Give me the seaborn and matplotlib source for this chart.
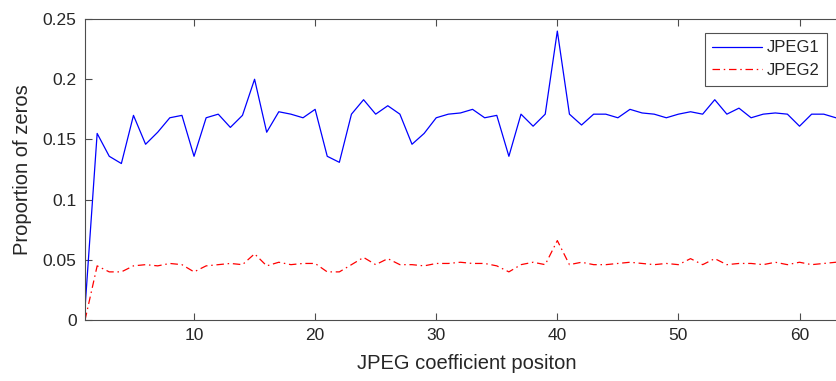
import numpy as np
import pandas as pd
import seaborn as sns
import matplotlib.pyplot as plt

# coefficient positions 1..64
positions = list(range(1, 65))

jpeg1 = [0.010, 0.155, 0.136, 0.130, 0.170, 0.146, 0.156, 0.168, 0.170, 0.136,
         0.168, 0.171, 0.160, 0.170, 0.200, 0.156, 0.173, 0.171, 0.168, 0.175,
         0.136, 0.131, 0.171, 0.183, 0.171, 0.178, 0.171, 0.146, 0.155, 0.168,
         0.171, 0.172, 0.175, 0.168, 0.170, 0.136, 0.171, 0.161, 0.171, 0.240,
         0.171, 0.162, 0.171, 0.171, 0.168, 0.175, 0.172, 0.171, 0.168, 0.171,
         0.173, 0.171, 0.183, 0.171, 0.176, 0.168, 0.171, 0.172, 0.171, 0.161,
         0.171, 0.171, 0.168, 0.168]

jpeg2 = [0.000, 0.045, 0.040, 0.040, 0.045, 0.046, 0.045, 0.047, 0.046, 0.040,
         0.045, 0.046, 0.047, 0.046, 0.055, 0.045, 0.048, 0.046, 0.047, 0.047,
         0.040, 0.040, 0.046, 0.052, 0.046, 0.051, 0.046, 0.046, 0.045, 0.047,
         0.047, 0.048, 0.047, 0.047, 0.045, 0.040, 0.046, 0.048, 0.046, 0.066,
         0.046, 0.048, 0.046, 0.046, 0.047, 0.048, 0.047, 0.046, 0.047, 0.046,
         0.051, 0.046, 0.051, 0.046, 0.047, 0.047, 0.046, 0.048, 0.046, 0.048,
         0.046, 0.047, 0.048, 0.047]

y_ticks = [0, 0.05, 0.1, 0.15, 0.2, 0.25]
y_tick_labels = ["0", "0.05", "0.1", "0.15", "0.2", "0.25"]
x_ticks = [10, 20, 30, 40, 50, 60]

df = pd.DataFrame({"pos": positions, "JPEG1": jpeg1, "JPEG2": jpeg2})

sns.set_style("white")
plt.rcParams['font.family'] = ['Liberation Sans', 'DejaVu Sans']

fig = plt.figure(figsize=(8.37, 3.81), dpi=100)
ax = fig.add_axes([0.1016, 0.160, 0.9115, 0.790])

sns.lineplot(data=df, x="pos", y="JPEG1", ax=ax, color=(0, 0, 1),
             linewidth=0.9, label="JPEG1")
sns.lineplot(data=df, x="pos", y="JPEG2", ax=ax, color=(1, 0, 0),
             linewidth=0.9, label="JPEG2")
ax.lines[1].set_linestyle((0, (6, 3, 1.2, 3)))

ax.set_xlim(1, 64)
ax.set_ylim(0, 0.25)
ax.set_xticks(x_ticks)
ax.set_yticks(y_ticks)
ax.set_yticklabels(y_tick_labels)

grey = "#262626"
for s in ax.spines.values():
    s.set_color("#4d4d4d")
    s.set_linewidth(0.8)
ax.tick_params(direction="in", length=5, width=0.8, color="#4d4d4d",
               labelsize=12.5, labelcolor=grey, top=True, right=True,
               bottom=True, left=True, pad=6)

ax.set_xlabel("JPEG coefficient positon", fontsize=14.5, color=grey, labelpad=8)
ax.set_ylabel("Proportion of zeros", fontsize=14.5, color=grey, labelpad=8)

leg = ax.legend(loc="upper right", bbox_to_anchor=(827 / 837, 1 - 33 / 381),
                bbox_transform=fig.transFigure, fontsize=12, frameon=True,
                fancybox=False, handlelength=3.0, borderpad=0.45,
                labelspacing=0.45, handletextpad=0.25, borderaxespad=0)
leg.get_frame().set_edgecolor("#262626")
leg.get_frame().set_linewidth(0.8)
for t in leg.get_texts():
    t.set_color(grey)

fig.savefig("out.png", dpi=100)
